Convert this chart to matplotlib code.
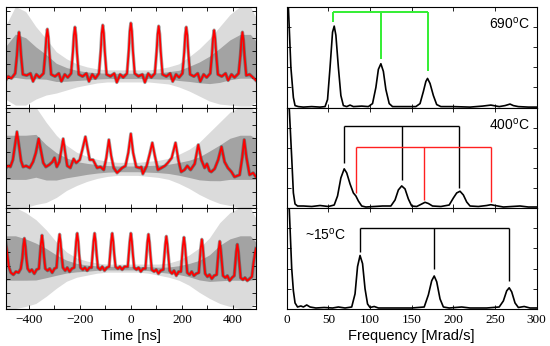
import matplotlib
matplotlib.use('Agg')
import matplotlib.pyplot as plt
import numpy as np
from matplotlib.ticker import MultipleLocator, FixedLocator

plt.rcParams['mathtext.fontset'] = 'custom'
plt.rcParams['mathtext.rm'] = 'Liberation Sans'

# ---------------- time-domain data (ns, arbitrary units 0-100) -------------
t_690 = [-490, -480, -468, -453, -446, -442, -438, -434, -430, -423, -408, -393, -383, -370, -358,
         -342, -335, -331, -327, -323, -319, -312, -297, -282, -272, -259, -247,
         -234, -227, -223, -219, -215, -211, -204, -189, -174, -164, -151, -139,
         -125, -118, -114, -110, -106, -102, -95, -80, -65, -55, -42, -30,
         -15, -8, -4, 0, 4, 8, 15, 30, 45, 55, 68, 80,
         94, 101, 105, 109, 113, 117, 124, 139, 154, 164, 177, 189,
         202, 209, 213, 217, 221, 225, 232, 247, 262, 272, 285, 297,
         311, 318, 322, 326, 330, 334, 341, 356, 371, 381, 394, 406,
         422, 429, 433, 437, 441, 445, 452, 465, 478, 490]
y_690 = [27, 31, 29, 34, 52, 67, 75, 67, 52, 33, 32, 34, 26, 33, 30,
         34, 54, 70, 78, 70, 54, 33, 31, 34, 26, 33, 30,
         34, 55, 72, 80, 72, 55, 33, 31, 34, 26, 33, 29,
         34, 56, 74, 82, 74, 56, 33, 31, 34, 25, 33, 30,
         34, 57, 76, 84, 76, 57, 34, 31, 33, 25, 34, 30,
         34, 56, 73, 81, 73, 56, 33, 31, 34, 26, 33, 30,
         34, 55, 72, 80, 72, 55, 33, 31, 34, 26, 33, 30,
         34, 54, 69, 77, 69, 54, 33, 31, 34, 27, 33, 30,
         34, 52, 67, 75, 67, 52, 32, 33, 30, 27]

t_400 = [-490, -480, -472, -462, -454, -446, -438, -430, -422, -410, -396, -383, -372, -361, -352,
         -343, -333, -320, -307, -299, -290, -280, -272, -265, -257, -249, -237, -224, -214,
         -200, -190, -178, -170, -161, -148, -132, -119, -106, -96, -86, -77, -67, -54, -34,
         -21, -10, 0, 9, 21, 34, 41, 47, 62, 74, 84, 94, 106, 120, 133, 145, 160, 175, 186,
         197, 210, 221, 234, 250, 264, 276, 289, 298, 308, 315, 328, 342, 355, 367, 380,
         394, 406, 426, 436, 444, 453, 465, 479, 490]
y_400 = [40, 42, 41, 48, 62, 76, 62, 47, 41, 42, 40, 46, 55, 69, 57,
         45, 41, 43, 46, 50, 41, 46, 58, 69, 55, 42, 40, 49, 45,
         48, 58, 71, 60, 48, 48, 40, 41, 38, 50, 68, 52, 40, 35, 40,
         42, 55, 74, 55, 41, 40, 41, 34, 42, 54, 65, 52, 38, 40, 42, 45, 50, 65, 48,
         36, 38, 42, 38, 44, 63, 48, 40, 44, 37, 36, 39, 48, 61, 46, 40,
         36, 31, 33, 50, 68, 50, 33, 35, 31]

t_15 = [-490, -484, -478, -470, -460, -450, -440, -431,
        -425, -421, -417, -413, -409, -404, -396, -388, -378, -369, -360,
        -356, -352, -348, -344, -340, -335, -326, -318, -308, -299, -291,
        -287, -283, -279, -275, -271, -266, -257, -249, -240, -231, -222,
        -218, -214, -210, -206, -202, -197, -188, -180, -171, -162, -154,
        -150, -146, -142, -138, -134, -129, -120, -112, -103, -94, -85,
        -81, -77, -73, -69, -65, -60, -51, -43, -34, -25, -12,
        -8, -4, 0, 4, 8, 13, 22, 30, 39, 48, 57,
        61, 65, 69, 73, 77, 82, 91, 99, 108, 117, 127,
        131, 135, 139, 143, 147, 152, 161, 169, 178, 187, 196,
        200, 204, 208, 212, 216, 221, 230, 238, 247, 256, 266,
        270, 274, 278, 282, 286, 291, 300, 308, 317, 326, 336,
        340, 344, 348, 352, 356, 361, 370, 378, 387, 396, 405,
        409, 413, 417, 421, 425, 430, 439, 447, 456, 465, 474,
        480, 486, 490]
y_15 = [66, 55, 42, 36, 34, 37, 36, 40,
        50, 62, 70, 62, 50, 40, 37, 39, 35, 39, 40,
        52, 65, 73, 65, 52, 40, 38, 40, 36, 40, 41,
        53, 66, 74, 66, 53, 41, 38, 41, 37, 40, 41,
        53, 67, 75, 67, 53, 41, 39, 41, 38, 41, 41,
        54, 67, 75, 67, 54, 41, 39, 42, 38, 41, 42,
        54, 67, 75, 67, 54, 42, 40, 42, 39, 42, 42,
        54, 67, 75, 67, 54, 41, 39, 41, 37, 40, 40,
        53, 66, 74, 66, 53, 39, 37, 39, 35, 38, 39,
        52, 64, 72, 64, 52, 38, 35, 38, 33, 37, 37,
        50, 63, 71, 63, 50, 36, 34, 37, 33, 35, 36,
        48, 61, 69, 61, 48, 35, 32, 34, 30, 33, 34,
        47, 59, 67, 59, 47, 33, 31, 33, 28, 31, 33,
        45, 57, 64, 57, 45, 31, 29, 31, 28, 30, 32,
        45, 55, 60]

# noise envelope of the raw (grey) data
t_env = [-490, -450, -410, -370, -330, -290, -250, -210, -170, -130, -90, -50, -10,
         30, 70, 110, 150, 190, 230, 270, 310, 350, 390, 430, 470, 490]
lo_690 = [8, 2, 2, 8, 12, 14, 17, 20, 22, 24, 25, 25, 25, 25, 25, 24, 23, 20, 16, 11, 6, 3, 2, 1, 1, 5]
hi_690 = [80, 100, 95, 80, 68, 55, 48, 43, 40, 38, 37, 37, 37, 37, 37, 38, 40, 43, 50, 58, 68, 80, 92, 100, 100, 90]
lo_400 = [0, 0, 0, 3, 5, 10, 17, 22, 26, 29, 31, 32, 32, 32, 31, 30, 28, 24, 19, 13, 8, 4, 2, 0, 0, 2]
hi_400 = [100, 100, 100, 100, 85, 72, 62, 55, 51, 48, 46, 45, 45, 45, 46, 47, 49, 53, 58, 65, 75, 85, 95, 100, 100, 95]
lo_15 = [0, 0, 2, 5, 12, 20, 27, 31, 33, 35, 36, 36, 36, 36, 35, 33, 31, 28, 23, 16, 10, 5, 2, 0, 0, 5]
hi_15 = [100, 100, 95, 88, 78, 66, 56, 50, 47, 45, 44, 44, 44, 44, 44, 44, 45, 48, 53, 60, 70, 85, 95, 100, 100, 90]

# ---------------- frequency-domain data (Mrad/s) ----------------
f_690 = [0, 2, 5, 8, 10, 14, 20, 30, 40, 46, 49, 52, 55, 57, 59, 62, 65, 68, 72, 76, 80, 90, 98,
         103, 107, 110, 113, 116, 119, 123, 127, 140, 155, 160, 164, 167, 169, 172, 176, 180,
         185, 200, 220, 235, 245, 255, 262, 268, 272, 278, 290, 300]
s_690 = [130, 100, 40, 10, 2, 1, 0.5, 1, 0.5, 1, 8, 40, 75, 81, 72, 40, 12, 2, 1, 2.5, 1, 1.5, 1,
         4, 20, 38, 43.6, 36, 18, 4, 1, 1, 1, 4, 16, 26, 29, 24, 12, 3,
         1, 1, 0.5, 1.5, 2.5, 1, 2, 3.5, 2, 1, 0.5, 0.5]
f_400 = [0, 3, 6, 8, 10, 13, 20, 30, 40, 50, 57, 61, 65, 69, 72, 76, 80, 83, 86, 90, 95, 105,
         115, 125, 130, 134, 138, 142, 146, 150, 156, 162, 166, 170, 175, 185, 195, 200, 204,
         208, 212, 216, 220, 230, 240, 245, 250, 260, 270, 280, 290, 300]
s_400 = [130, 100, 50, 15, 4, 2, 2, 1.5, 2.5, 1.5, 3, 12, 30, 39, 35, 24, 15, 12, 7, 2, 1, 1.5,
         2, 2, 8, 18, 22, 19, 9, 2, 1.5, 4, 5.7, 4.5, 2, 1.5, 3, 10, 15,
         16.7, 13, 6, 2, 1.5, 2.5, 3.3, 2.5, 1, 1.5, 2, 1, 1]
f_15 = [0, 3, 6, 8, 10, 13, 17, 20, 24, 28, 35, 45, 55, 62, 70, 78, 82, 85, 88, 91, 94, 97,
        100, 105, 110, 130, 150, 165, 170, 174, 177, 180, 184, 188, 195, 210, 220, 240, 255,
        260, 264, 267, 270, 274, 278, 285, 292, 300]
s_15 = [130, 100, 40, 18, 6, 2, 3, 2, 4, 2, 1, 1.5, 1, 2, 1, 2, 15, 42, 53, 45, 20, 5,
        1.5, 2.5, 1, 1, 1, 2, 14, 28, 32.7, 27, 10, 2, 1, 2, 1, 1, 2,
        8, 18, 21, 17, 6, 1.5, 2.5, 1, 1]

# harmonic combs
comb_690_f = [56, 112.8, 169]
comb_690_end = [85, 48, 36]
comb_690_level = 95
comb_400a_f = [68.8, 138, 207]
comb_400a_end = [45, 27.7, 20]
comb_400a_level = 82
comb_400b_f = [83, 165, 245]
comb_400b_end = [15, 7.7, 5.7]
comb_400b_level = 61
comb_15_f = [88, 176.8, 266.8]
comb_15_end = [56, 40, 27.7]
comb_15_level = 80

labels = ['690$^{\\mathrm{o}}$C', '400$^{\\mathrm{o}}$C', '~15$^{\\mathrm{o}}$C']

# ---------------- figure ----------------
fig = plt.figure(figsize=(5.5, 3.46), dpi=100)
rows = [(0.689, 0.2908), (0.3988, 0.2902), (0.1069, 0.2919)]
serif = 'Liberation Serif'
sans = 'Liberation Sans'

time_sets = [(t_690, y_690, lo_690, hi_690), (t_400, y_400, lo_400, hi_400), (t_15, y_15, lo_15, hi_15)]
spec_sets = [(f_690, s_690), (f_400, s_400), (f_15, s_15)]

def style(ax, bottom_row):
    ax.tick_params(which='both', direction='in', top=True, right=True, width=0.6,
                   labelsize=9.5, pad=3.5)
    ax.tick_params(which='major', length=3)
    ax.tick_params(which='minor', length=3)
    for s in ax.spines.values():
        s.set_linewidth(0.8)
    if not bottom_row:
        ax.tick_params(labelbottom=False)
    ax.tick_params(labelleft=False)
    for lab in ax.get_xticklabels():
        lab.set_fontfamily(serif)

for i, (b, h) in enumerate(rows):
    # time panel
    ax = fig.add_axes([0.0104, b, 0.455, h])
    t, y, lo, hi = time_sets[i]
    lo = np.array(lo, float)
    hi = np.array(hi, float)
    span = hi - lo
    ax.fill_between(t_env, lo, hi, facecolor='0.86', lw=0)
    ax.fill_between(t_env, lo + 0.28 * span, hi - 0.28 * span, facecolor='0.64', lw=0)
    ax.plot(t, y, color='0.2', lw=2.4, alpha=0.45)
    ax.plot(t, y, color='#ff0000', lw=1.3)
    ax.set_xlim(-490, 490)
    ax.set_ylim(0, 100)
    ax.xaxis.set_major_locator(FixedLocator([-400, -200, 0, 200, 400]))
    ax.xaxis.set_minor_locator(MultipleLocator(100))
    ax.yaxis.set_major_locator(FixedLocator([3, 16.3, 29.6, 42.9, 56.2, 69.5, 82.8, 96.1]))
    style(ax, i == 2)
    if i == 2:
        ax.set_xlabel('Time [ns]', fontfamily=sans, fontsize=10.5, labelpad=2)

    # spectrum panel
    ax2 = fig.add_axes([0.5213, b, 0.4545, h])
    f, s = spec_sets[i]
    ax2.plot(f, s, color='black', lw=1.2)
    ax2.set_xlim(0, 300)
    ax2.set_ylim(0, 100)
    ax2.xaxis.set_major_locator(MultipleLocator(50))
    ax2.yaxis.set_major_locator(FixedLocator([20, 40, 60, 80]))
    style(ax2, i == 2)
    if i == 2:
        ax2.set_xlabel('Frequency [Mrad/s]', fontfamily=sans, fontsize=10.5, labelpad=2)

    if i == 0:
        combs = [(comb_690_f, comb_690_end, comb_690_level, '#33ee33', 1.4)]
    elif i == 1:
        combs = [(comb_400a_f, comb_400a_end, comb_400a_level, 'black', 1.0),
                 (comb_400b_f, comb_400b_end, comb_400b_level, '#ff2020', 1.0)]
    else:
        combs = [(comb_15_f, comb_15_end, comb_15_level, 'black', 1.0)]
    for cf, ce, cl, col, lw in combs:
        ax2.hlines(cl, cf[0], cf[-1], color=col, lw=lw)
        ax2.vlines(cf, ce, [cl] * len(cf), color=col, lw=lw)

    if i < 2:
        ax2.text(0.973, 0.835, labels[i], transform=ax2.transAxes, ha='right', va='center',
                 fontfamily=sans, fontsize=10)
    else:
        ax2.text(0.073, 0.736, labels[i], transform=ax2.transAxes, ha='left', va='center',
                 fontfamily=sans, fontsize=10)

fig.savefig('out.png', dpi=100)
